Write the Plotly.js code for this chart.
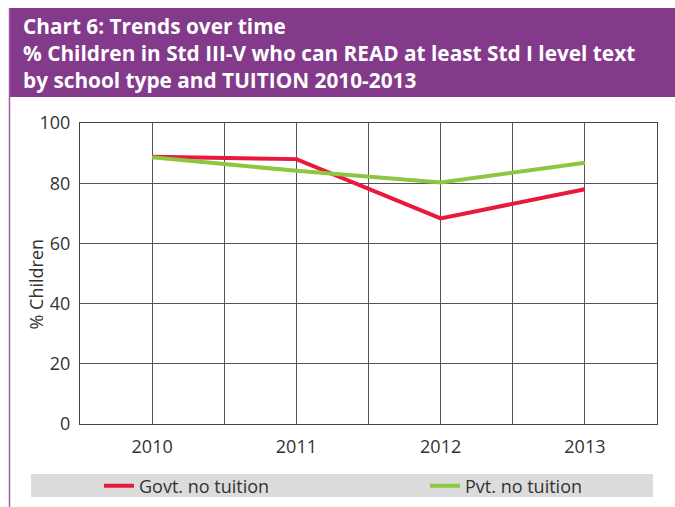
<!DOCTYPE html>
<html>
<head>
<meta charset="utf-8">
<script src="https://cdn.plot.ly/plotly-3.0.1.min.js"></script>
<style>html,body{margin:0;padding:0;background:#fff;}#chart{width:675px;height:507px;}</style>
</head>
<body>
<div id="chart"></div>
<script>
const years = [2010, 2011, 2012, 2013];
const govtNoTuition = [88.8, 88.0, 68.3, 78.0];
const pvtNoTuition = [88.6, 84.1, 80.2, 86.8];
const yTicks = [0, 20, 40, 60, 80, 100];
const titleLines = [
  'Chart 6: Trends over time',
  '% Children in Std III-V who can READ at least Std I level text',
  'by school type and TUITION 2010-2013'
];
const yTitle = '% Children';

const W = 675, H = 507;
const L = 80, R = 18, T = 123, B = 83;
const pw = W - L - R, ph = H - T - B;
const px = x => (x - L) / pw;
const py = y => (H - B - y) / ph;

const traces = [
  {x: years, y: govtNoTuition, name: 'Govt. no tuition', type: 'scatter', mode: 'lines',
   line: {color: '#e8193c', width: 4}, legend: 'legend'},
  {x: years, y: pvtNoTuition, name: 'Pvt. no tuition', type: 'scatter', mode: 'lines',
   line: {color: '#8dc63f', width: 4}, legend: 'legend2'}
];

const font = '"Open Sans", "Noto Sans", sans-serif';
const legendBase = {
  orientation: 'h', xanchor: 'left', yanchor: 'middle', y: py(486),
  bgcolor: 'rgba(0,0,0,0)', font: {size: 18, color: '#333333'},
  itemclick: false, itemdoubleclick: false
};

const layout = {
  width: W, height: H,
  margin: {l: L, r: R, t: T, b: B, pad: 0, autoexpand: false},
  paper_bgcolor: '#ffffff', plot_bgcolor: '#ffffff',
  font: {family: font, size: 18, color: '#333333'},
  xaxis: {
    range: [2009.5, 2013.5], tickvals: years, ticktext: years.map(String),
    showgrid: true, gridcolor: '#555555', gridwidth: 1,
    minor: {dtick: 0.5, tick0: 2009.5, showgrid: true, gridcolor: '#555555', gridwidth: 1},
    showline: true, linecolor: '#444444', linewidth: 1, mirror: true,
    ticks: '', zeroline: false, fixedrange: true, automargin: false,
    tickfont: {size: 18, color: '#333333'}, ticklabelstandoff: 6
  },
  yaxis: {
    range: [0, 100], tickvals: yTicks, ticktext: yTicks.map(String),
    showgrid: true, gridcolor: '#555555', gridwidth: 1,
    showline: true, linecolor: '#444444', linewidth: 1, mirror: true,
    ticks: '', zeroline: false, fixedrange: true, automargin: false,
    tickfont: {size: 18, color: '#333333'}, ticklabelstandoff: 5
  },
  showlegend: true,
  legend: Object.assign({}, legendBase, {x: px(99)}),
  legend2: Object.assign({}, legendBase, {x: px(425)}),
  annotations: [
    {text: '<b>' + titleLines.join('<br>') + '</b>', xref: 'paper', yref: 'paper',
     x: px(21), y: py(10), xanchor: 'left', yanchor: 'top', align: 'left', showarrow: false,
     font: {family: font, size: 20.8, color: '#ffffff'}},
    {text: yTitle, xref: 'paper', yref: 'paper', x: px(35.5), y: py(284),
     xanchor: 'center', yanchor: 'middle', textangle: -90, showarrow: false,
     font: {family: font, size: 18, color: '#333333'}}
  ],
  shapes: [
    {type: 'rect', xref: 'paper', yref: 'paper', x0: px(10), x1: px(675), y0: py(97), y1: py(8),
     fillcolor: '#833a8a', line: {width: 0}, layer: 'below'},
    {type: 'line', xref: 'paper', yref: 'paper', x0: px(9.5), x1: px(9.5), y0: py(507), y1: py(8),
     line: {color: '#a25aa8', width: 1.5}},
    {type: 'rect', xref: 'paper', yref: 'paper', x0: px(31), x1: px(653), y0: py(497), y1: py(474),
     fillcolor: '#dcdcdc', line: {width: 0}, layer: 'below'}
  ]
};

Plotly.newPlot('chart', traces, layout, {displayModeBar: false, staticPlot: true});
</script>
</body>
</html>
